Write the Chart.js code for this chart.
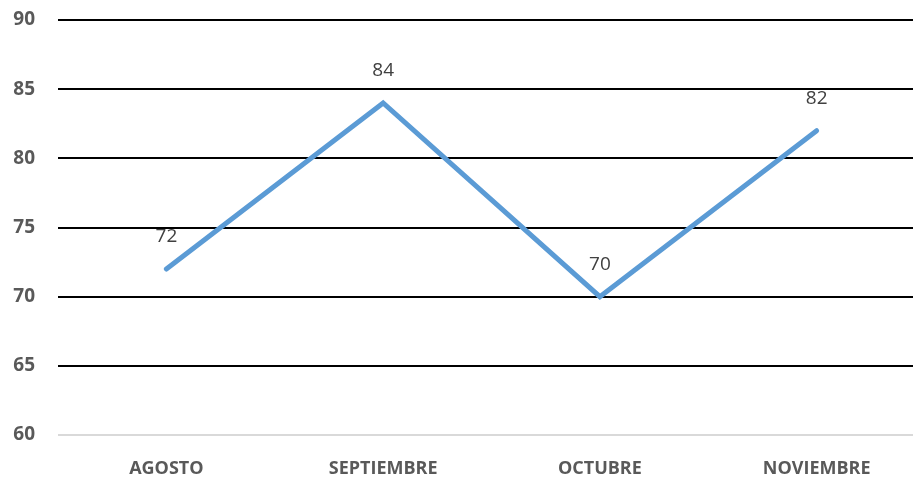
<!DOCTYPE html>
<html>
<head>
<meta charset="utf-8">
<script src="https://cdn.jsdelivr.net/npm/chart.js@4"></script>
<style>
  html, body { margin: 0; padding: 0; background: #fff; overflow: hidden; }
  #wrap { width: 925px; height: 477px; }
</style>
</head>
<body>
<div id="wrap"><canvas id="chartCanvas"></canvas></div>
<script>
// Data
const months = ["AGOSTO", "SEPTIEMBRE", "OCTUBRE", "NOVIEMBRE"];
const scores = [72, 84, 70, 82];
const yTicks = [60, 65, 70, 75, 80, 85, 90];

// Labels above each point
const pointLabels = {
  id: "pointLabels",
  afterDatasetsDraw(chart) {
    const { ctx } = chart;
    const meta = chart.getDatasetMeta(0);
    ctx.save();
    ctx.font = "19px 'Open Sans', sans-serif";
    ctx.fillStyle = "#404040";
    ctx.textAlign = "center";
    ctx.textBaseline = "middle";
    meta.data.forEach((pt, i) => {
      ctx.fillText(String(scores[i]), pt.x, pt.y - 32);
    });
    ctx.restore();
  }
};

const ctx = document.getElementById("chartCanvas").getContext("2d");

const chart = new Chart(ctx, {
  type: "line",
  data: {
    labels: months,
    datasets: [{
      data: scores,
      borderColor: "#5B9BD5",
      borderWidth: 5,
      borderCapStyle: "round",
      borderJoinStyle: "miter",
      pointRadius: 0,
      tension: 0,
      fill: false
    }]
  },
  options: {
    responsive: true,
    maintainAspectRatio: false,
    animation: false,
    layout: { padding: { top: 20, left: 0, right: 0, bottom: 0 } },
    plugins: {
      legend: { display: false },
      tooltip: { enabled: false }
    },
    scales: {
      x: {
        offset: true,
        grid: { display: false },
        border: { display: false },
        afterFit: (axis) => { axis.height = 42; },
        ticks: {
          color: "#595959",
          font: { family: "'Open Sans', sans-serif", size: 18, weight: "bold" },
          padding: 15
        }
      },
      y: {
        min: yTicks[0],
        max: yTicks[yTicks.length - 1],
        afterBuildTicks: (axis) => { axis.ticks = yTicks.map(v => ({ value: v })); },
        afterFit: (axis) => {
          axis.width = 58;
          axis.paddingTop = 0;
          axis.paddingBottom = 0;
        },
        grid: {
          color: (c) => c.tick && c.tick.value === yTicks[0] ? "#D9D9D9" : "#000000",
          lineWidth: 2,
          drawTicks: false
        },
        border: { display: false },
        ticks: {
          color: "#595959",
          font: { family: "'Open Sans', sans-serif", size: 19, weight: "bold" },
          padding: 23
        }
      }
    }
  },
  plugins: [pointLabels]
});
</script>
</body>
</html>
